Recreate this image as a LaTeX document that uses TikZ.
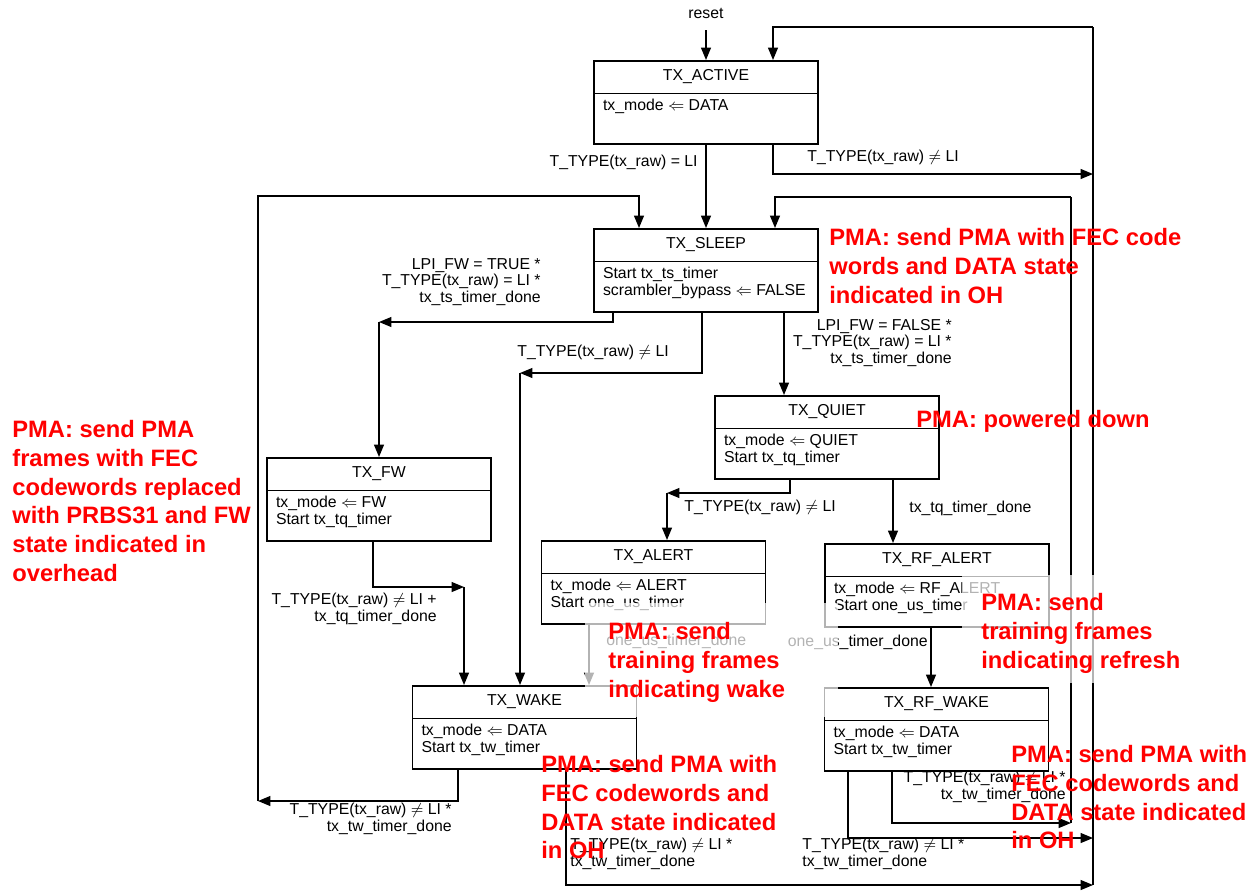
\documentclass[tikz,border=0pt]{standalone}
\usepackage{fontspec}
\setmainfont{Liberation Sans}
\usetikzlibrary{shapes.multipart, arrows.meta, calc}
\newcommand{\sttitle}[1]{\rule[-5pt]{0pt}{13.6pt}#1}
\newcommand{\stbody}[2]{\vtop to 23.8pt{\hbox{\makebox[4.12cm][l]{\rule{0pt}{7.4pt}#1}}\hbox{#2}\vfil}}

\begin{document}
\begin{tikzpicture}[x=0.02cm, y=-0.02cm,
        font=\fontsize{9}{9.6}\selectfont,
        state/.style={rectangle split, rectangle split parts=2, draw, line width=0.9pt,
            minimum width=4.48cm, inner xsep=0.18cm, inner ysep=2pt, anchor=north},
        arr/.style={-{Triangle[length=7pt,width=5.6pt]}, line width=0.8pt},
        bus/.style={line width=0.8pt},
        lbl/.style={inner sep=0pt},
        pma/.style={text=red, font=\fontsize{13.5}{16.4}\selectfont\bfseries,
            align=left, inner sep=0pt, anchor=north west}]
    \useasboundingbox (0,0) rectangle (1254,890);

    \node[state] (active) at (706,60) {\sttitle{TX\_ACTIVE}\nodepart{two}\stbody{tx\_mode $\Leftarrow$ DATA}{}};
    \node[state] (sleep) at (706,228) {\sttitle{TX\_SLEEP}\nodepart{two}\stbody{Start tx\_ts\_timer}{scrambler\_bypass $\Leftarrow$ FALSE}};
    \node[state] (quiet) at (827,395) {\sttitle{TX\_QUIET}\nodepart{two}\stbody{tx\_mode $\Leftarrow$ QUIET}{Start tx\_tq\_timer}};
    \node[state] (fw) at (379,457) {\sttitle{TX\_FW}\nodepart{two}\stbody{tx\_mode $\Leftarrow$ FW}{Start tx\_tq\_timer}};
    \node[state] (alert) at (653.5,540) {\sttitle{TX\_ALERT}\nodepart{two}\stbody{tx\_mode $\Leftarrow$ ALERT}{Start one\_us\_timer}};
    \node[state] (rfalert) at (937,543) {\sttitle{TX\_RF\_ALERT}\nodepart{two}\stbody{tx\_mode $\Leftarrow$ RF\_ALERT}{Start one\_us\_timer}};
    \node[state] (wake) at (524.5,685) {\sttitle{TX\_WAKE}\nodepart{two}\stbody{tx\_mode $\Leftarrow$ DATA}{Start tx\_tw\_timer}};
    \node[state] (rfwake) at (936.5,687) {\sttitle{TX\_RF\_WAKE}\nodepart{two}\stbody{tx\_mode $\Leftarrow$ DATA}{Start tx\_tw\_timer}};

    \coordinate (bustop) at (1093,27);
    \coordinate (busbot) at (1093,885);
    \coordinate (bus2top) at (1071,197);
    \coordinate (bus2bot) at (1071,823);
    \coordinate (ltop) at (258,196);
    \coordinate (lbot) at (258,801);

    \node[lbl] (reset) at (706,13) {reset};
    \draw[arr] (reset.south |- 0,30) -- (active.north);
    \draw[bus] (bustop) -- (busbot);
    \draw[arr] (bustop) -| (active.north -| 773,0);
    \draw[arr] (active.south) -- (sleep.north);
    \draw[arr] (active.south -| 773,0) |- (bustop |- 0,174);
    \draw[bus] (bus2top) -- (bus2bot);
    \draw[arr] (bus2top) -| (sleep.north -| 775,0);
    \draw[arr] (lbot) -- (ltop) -| (sleep.north -| 639,0);

    \draw[arr] (sleep.south -| 613,0) |- (fw.north |- 0,322);
    \draw[arr] (fw.north |- 0,322) -- (fw.north);
    \draw[arr] (sleep.south -| 702,0) |- (520,373);
    \draw[arr] (520,373) -- (wake.north -| 520,0);
    \draw[arr] (sleep.south -| 784,0) -- (quiet.north -| 784,0);

    \draw[arr] (quiet.south -| 790,0) |- (667,493);
    \draw[arr] (667,493) -- (alert.north -| 667,0);
    \draw[arr] (quiet.south -| 893,0) -- (rfalert.north -| 893,0);

    \draw[arr] (fw.south -| 373,0) |- (464,587);
    \draw[arr] (464,587) -- (wake.north -| 464,0);
    \draw[arr] (alert.south -| 589,0) -- (wake.north -| 589,0);
    \draw[arr] (rfalert.south -| 931,0) -- (rfwake.north -| 931,0);

    \draw[arr] (wake.south -| 458,0) |- (lbot);
    \draw[arr] (wake.south -| 566,0) |- (busbot);
    \draw[arr] (rfwake.south -| 848,0) |- (bustop |- 0,838);
    \draw[arr] (rfwake.south -| 892,0) |- (bus2bot);

    \node[lbl, anchor=east] (actsleep) at (698,162) {T\_TYPE(tx\_raw) = LI};
    \node[lbl, anchor=west] (actdata) at (807,157) {T\_TYPE(tx\_raw) $\neq$ LI};
    \node[lbl, anchor=east, align=right] (sleepfw) at (541,282) {LPI\_FW = TRUE *\\T\_TYPE(tx\_raw) = LI *\\tx\_ts\_timer\_done};
    \node[lbl, anchor=west] (sleepwake) at (517,352) {T\_TYPE(tx\_raw) $\neq$ LI};
    \node[lbl, anchor=east, align=right] (sleepquiet) at (952,343) {LPI\_FW = FALSE *\\T\_TYPE(tx\_raw) = LI *\\tx\_ts\_timer\_done};
    \node[lbl, anchor=west] (quietalert) at (684,507) {T\_TYPE(tx\_raw) $\neq$ LI};
    \node[lbl, anchor=west] (quietrf) at (909,508) {tx\_tq\_timer\_done};
    \node[lbl, anchor=east, align=right] (fwwake) at (437,609) {T\_TYPE(tx\_raw) $\neq$ LI +\\tx\_tq\_timer\_done};
    \node[lbl, anchor=west] (alertwake) at (606,641) {one\_us\_timer\_done};
    \node[lbl, anchor=east] (rfalertwake) at (928,642) {one\_us\_timer\_done};
    \node[lbl, anchor=east, align=right] (wakesleep) at (452,819) {T\_TYPE(tx\_raw) $\neq$ LI *\\tx\_tw\_timer\_done};
    \node[lbl, anchor=west, align=left] (wakeact) at (570,854) {T\_TYPE(tx\_raw) $\neq$ LI *\\tx\_tw\_timer\_done};
    \node[lbl, anchor=west, align=left] (rfwakeact) at (802,854) {T\_TYPE(tx\_raw) $\neq$ LI *\\tx\_tw\_timer\_done};
    \node[lbl, anchor=east, align=right] (rfwakesleep) at (1066,787) {T\_TYPE(tx\_raw) $\neq$ LI *\\tx\_tw\_timer\_done};

    \fill[white, opacity=0.7] (585,603) rectangle (838,717);
    \fill[white, opacity=0.7] (962,575) rectangle (1190,683);

    \node[pma] (pmasleep) at (829,228) {PMA: send PMA with FEC code\\words and DATA state\\indicated in OH};
    \node[pma] (pmaquiet) at (916,410) {PMA: powered down};
    \node[pma] (pmafw) at (12,420) {PMA: send PMA\\frames with FEC\\codewords replaced\\with PRBS31 and FW\\state indicated in\\overhead};
    \node[pma] (pmaalert) at (608,622) {PMA: send\\training frames\\indicating wake};
    \node[pma] (pmarfalert) at (981,593) {PMA: send\\training frames\\indicating refresh};
    \node[pma] (pmawake) at (541,755) {PMA: send PMA with\\FEC codewords and\\DATA state indicated\\in OH};
    \node[pma] (pmarfwake) at (1011,745) {PMA: send PMA with\\FEC codewords and\\DATA state indicated\\in OH};
\end{tikzpicture}
\end{document}
